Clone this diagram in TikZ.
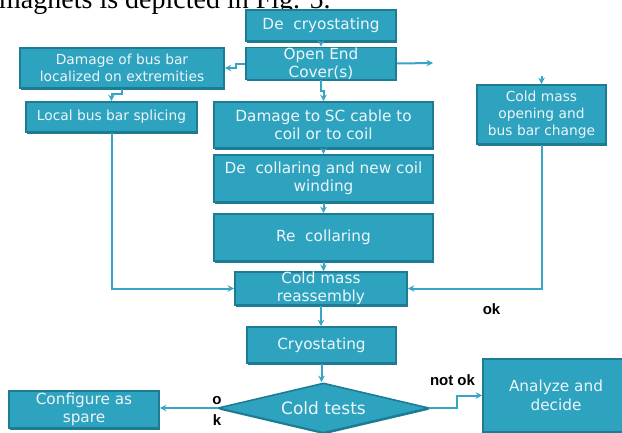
\documentclass[tikz,border=0pt]{standalone}
\usepackage{fontspec}
\setmainfont{DejaVu Sans}
\newfontfamily\topserif{Liberation Serif}
\newfontfamily\lblfont{Liberation Sans}
\usetikzlibrary{shapes.geometric,arrows.meta,shadows}
\definecolor{boxfill}{HTML}{2EA3C0}
\definecolor{boxedge}{HTML}{1D7C94}
\definecolor{boxtxt}{HTML}{EDF6F9}
\definecolor{linecol}{HTML}{38A5C8}
\tikzset{
  box/.style={rectangle, fill=boxfill, draw=boxedge, line width=1.6pt, inner sep=0pt,
    drop shadow={shadow xshift=0.8pt, shadow yshift=-1.6pt, fill=boxedge, opacity=1}},
  bt/.style={font=\fontsize{15.3}{18.5}\selectfont, text=boxtxt, align=center},
  bts/.style={font=\fontsize{13.8}{17}\selectfont, text=boxtxt, align=center},
  conn/.style={draw=linecol, line width=2pt, -{Stealth[length=6.5pt,width=6.5pt]}},
  lbl/.style={font=\lblfont\bfseries\fontsize{15}{15}\selectfont, text=black, inner sep=0pt},
}
\begin{document}
\begin{tikzpicture}[x=1pt,y=-1pt]
\useasboundingbox (0,0) rectangle (622,432);
\clip (0,0) rectangle (622,432);
\node[anchor=base west, font=\topserif\fontsize{28}{30}\selectfont, inner sep=0pt] (toptext) at (-1,8.5) {magnets is depicted in Fig. 5.};

\node[box, bt, minimum width=150, minimum height=31] (decryo) at (321,25.5) {De\ \ cryostating};
\node[box, bt, minimum width=150, minimum height=31] (open) at (321,63.5) {Open End\\Cover(s)};
\node[box, bts, minimum width=204, minimum height=40] (dmgbus) at (122,68) {Damage of bus bar\\localized on extremities};
\node[box, bts, minimum width=171, minimum height=30] (local) at (111.5,117) {Local bus bar splicing};
\node[box, bt, minimum width=219, minimum height=46] (dmgsc) at (323.5,125) {Damage to SC cable to\\coil or to coil};
\node[box, bts, minimum width=129, minimum height=59] (cmopen) at (541.5,114.5) {Cold mass\\opening and\\bus bar change};
\node[box, bt, minimum width=219, minimum height=47] (decoll) at (323.5,178.5) {De\ \ collaring and new coil\\winding};
\node[box, bt, minimum width=219, minimum height=47] (recoll) at (323.5,237.5) {Re\ \ collaring};
\node[box, bt, minimum width=172, minimum height=31] (reasm) at (321,288.5) {Cold mass\\reassembly};
\node[box, bt, minimum width=149, minimum height=36] (cryo) at (321.5,345) {Cryostating};
\node[diamond, fill=boxfill, draw=boxedge, line width=1.6pt, inner sep=0pt,
  minimum width=211, minimum height=50,
  drop shadow={shadow xshift=0.8pt, shadow yshift=-1.6pt, fill=boxedge, opacity=1}] (cold) at (323.5,408) {};
\node[font=\fontsize{17}{20}\selectfont, text=boxtxt, inner sep=0pt] (coldtxt) at (cold.center) {Cold tests};
\node[box, bt, minimum width=150, minimum height=37] (config) at (84,409.5) {Configure as\\spare};
\node[box, bt, minimum width=146, minimum height=73] (analyze) at (556,395.5) {Analyze and\\decide};

\coordinate (openright) at (433,63);
\coordinate (cmtop) at (541.5,76);

\draw[conn] (decryo.south) -- (open.north);
\draw[conn] (open.west) -- ++(-9,0) |- (dmgbus.east);
\draw[conn] (open.east) -- (openright);
\draw[conn] (cmtop) -- (cmopen.north);
\draw[conn] (open.south) -- ++(0,11) -| (dmgsc.north);
\draw[conn] (dmgbus.south) -- ++(0,5) -| (local.north);
\draw[conn] (dmgsc.south) -- (decoll.north);
\draw[conn] (decoll.south) -- (recoll.north);
\draw[conn] (recoll.south) -- (recoll.south |- reasm.north);
\draw[conn] (local.south) |- (reasm.west);
\draw[conn] (cmopen.south) |- (reasm.east);
\draw[conn] (reasm.south) -- (reasm.south |- cryo.north);
\draw[conn] (cryo.south) -- (cryo.south |- cold.north);
\draw[conn] (cold.west) -- (cold.west -| config.east);
\draw[conn] (cold.east) -- ++(27,0) |- (analyze.west);

\node[lbl] (okmid) at (491.5,309) {ok};
\node[lbl] (notok) at (452.5,380) {not ok};
\node[lbl] (oko) at (217,401) {o};
\node[lbl] (okk) at (217,420) {k};
\end{tikzpicture}
\end{document}
